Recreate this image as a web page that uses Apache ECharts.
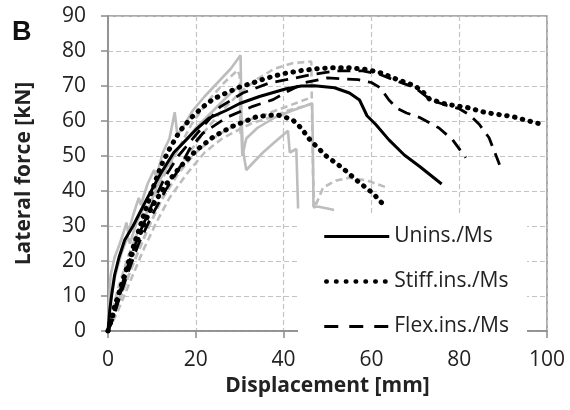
<!DOCTYPE html>
<html><head><meta charset="utf-8">
<script src="https://cdn.jsdelivr.net/npm/echarts@6/dist/echarts.min.js"></script>
<style>html,body{margin:0;padding:0;background:#fff}#c{width:570px;height:410px}</style>
</head><body><div id="c"></div>
<script>
// Tick values
const xTicks = [0, 20, 40, 60, 80, 100];
const yTicks = [0, 10, 20, 30, 40, 50, 60, 70, 80, 90];
const legendNames = ['Unins./Ms', 'Stiff.ins./Ms', 'Flex.ins./Ms'];

// Black curves [displacement mm, force kN]
const unins = [[0,0],[0.4,6],[0.8,10],[1.5,16],[2.5,21],[3.8,26],[5.7,30],[8.7,37.4],[12,45],[15,51],[17.8,54.6],[20,57.5],[23,60.8],[26.9,63],[30,65],[34.5,67],[40.6,69.2],[44,70],[47,70.1],[51.6,69.5],[55,68],[57.3,66],[59,61.5],[61,59],[64,54.6],[67.5,50.3],[71,47],[76,42]];
const stiffA = [[0,0],[1,4],[2,8.5],[4,17],[6,25],[8,32.5],[10,40],[12,47],[14,52],[16.3,57],[19,61],[21.6,64],[24,66.3],[26.9,68],[30,69.7],[33,70.9],[36,72.2],[39.8,73.5],[44,74.4],[48,75],[51,75.2],[55,75.2],[59,74.7],[62,73.8],[66,71.8],[70,70],[72,68],[73.2,66.3],[77,64.8],[82,63.8],[86,62.4],[92,61.3],[98.3,59.2]];
const stiffB = [[0,0],[0.4,2],[1.5,7],[2.7,11.6],[4.9,20],[8,30],[10,35.5],[13.3,42],[16.5,47],[20,51.5],[24,55.5],[28.4,58.5],[34,61.3],[38.5,61.8],[42,60.4],[44,58],[46,54.6],[49.7,50],[53.4,46.6],[56.5,43.2],[60.3,39.4],[63.4,35.2]];
const flexA = [[0,0],[1,4],[2.5,10.5],[4.5,18.5],[7,27.5],[10,36],[13,44],[16,50],[20,56],[25.5,64],[30.7,68],[36.8,70.9],[40.6,71.8],[46.6,73.3],[52,74.3],[58,74.3],[62,73.3],[66,71.3],[70,69.5],[72.5,67],[74,65.8],[77,64.5],[80,63.5],[82.3,61.8],[84.6,59],[86.8,55.2],[89.2,47.5]];
const flexB = [[0,0],[1,3],[2.5,9],[4.5,16.5],[7,25],[10,33],[13,40],[16,46],[18.6,52],[21.6,56.5],[27,61],[33,64.2],[37.6,66.1],[41,68.5],[45,71],[50,72.3],[57,71.8],[60,71],[62,69.5],[64,66],[66,63.5],[68,62.3],[71,61],[75.4,58],[78.5,54.6],[81.5,49.5]];

// Gray (other tests) curves
const graySolid1 = [[0,0],[0.3,10],[0.6,16],[1.5,21],[2.7,25],[3.5,28],[4.2,31],[4.6,28],[5.7,33],[7,38],[7.5,36],[9,42],[10.5,46],[11,44],[12.5,51],[14,55],[15.2,62.5],[15.8,56],[17,58],[19.3,63],[22,67],[25,71],[28,75],[30.2,78.8],[30.4,62],[30.7,52],[31.5,46],[33,48],[35.3,51],[38,54],[41,57.2],[41.4,51],[42.9,52],[43.3,35]];
const graySolid2 = [[0,0],[0.5,8],[1.5,15],[3,22],[4.5,27],[5,25],[6.5,31],[8.5,36],[9,34],[11,41],[13,46],[16,52],[20,58],[24,63],[28,68],[30,70],[30.3,60],[30.6,50],[31.5,55],[34,58],[38,61],[42,63],[46.5,65],[46.7,50],[46.8,35.5],[48,35.5],[50,35],[51.5,34.6]];
const grayDash1 = [[0,0],[1,3],[3,10],[5,17],[7,23],[9,29],[12,37],[15,44],[18,50],[22,57],[26,63],[30,68],[34,72],[38,75],[42,76.5],[46.3,77],[46.5,60],[46.7,45],[47,35],[49,41],[52,43],[55,43.8],[59,43],[63.5,41]];
const grayDash2 = [[0,0],[2,5],[4,11],[6,17],[8,23],[11,31],[14,38],[18,45],[22,51],[26,55],[29,57],[33,59.5],[37,61],[41,63],[46,64.7]];
const grayDash3 = [[0,0],[1.5,5],[3.5,12],[6,20],[9,29],[12,37],[16,45],[20,51],[25,56],[30,59.5],[35,61.5],[40,63.8],[46,66.6]];
const grayDash4 = [[0,0],[1,6],[2.5,13],[4.5,21],[7,29],[10,37],[13,45],[16,52],[19,59],[23,66],[26.5,71],[29.5,74.5],[30,73],[30.2,56]];

const FONT = '"Open Sans", "Noto Sans", sans-serif';
const GRAY = '#bdbdbd';
const dotStyle = {color:'#000', width:5, type:[0.5,7.5], cap:'round'};
const dashStyle = {color:'#000', width:2.8, type:[13,8]};
function line(name, data, ls, z) {
  return {name, type:'line', data, symbol:'none', showSymbol:false, lineStyle:ls, z:z||2, silent:true, animation:false};
}
const chart = echarts.init(document.getElementById('c'), null, {renderer:'canvas'});
chart.setOption({
  animation:false,
  backgroundColor:'#fff',
  graphic:[{type:'text', left:12, top:19, style:{text:'B', font:'bold 27px "Liberation Sans", Arial, sans-serif', fill:'#111'}}],
  grid:{left:108, right:23, top:16, bottom:79, show:true, borderColor:'#8f8f8f', borderWidth:1.5},
  legend:{
    data:[
      {name:legendNames[0], lineStyle:{color:'#000', width:3, type:'solid'}},
      {name:legendNames[1], lineStyle:{color:'#000', width:4.5, type:[0.5,9.3], cap:'round', dashOffset:-2}},
      {name:legendNames[2], lineStyle:{color:'#000', width:3, type:[14,11], dashOffset:0}}
    ],
    orient:'vertical', left:298, top:216,
    padding:[10,18,10,24], itemWidth:65, itemHeight:14, itemGap:24,
    backgroundColor:'#fff', textStyle:{fontFamily:FONT, fontSize:21, color:'#222'}, itemStyle:{opacity:0}
  },
  xAxis:{
    type:'value', min:0, max:100, interval:20,
    name:'Displacement [mm]', nameLocation:'middle', nameGap:45,
    nameTextStyle:{fontFamily:FONT, fontSize:21, fontWeight:'bold', color:'#222'},
    axisLine:{show:true, lineStyle:{color:'#8a8a8a', width:1.5}},
    axisTick:{show:true, length:7, lineStyle:{color:'#8a8a8a', width:1.5}},
    axisLabel:{fontFamily:FONT, fontSize:21, color:'#222', margin:19},
    splitLine:{show:true, lineStyle:{color:'#c4c4c4', width:1.2, type:[5,3]}}
  },
  yAxis:{
    type:'value', min:0, max:90, interval:10,
    name:'Lateral force [kN]', nameLocation:'middle', nameGap:73,
    nameTextStyle:{fontFamily:FONT, fontSize:21, fontWeight:'bold', color:'#222'},
    axisLine:{show:true, lineStyle:{color:'#8a8a8a', width:1.5}},
    axisTick:{show:true, length:7, lineStyle:{color:'#8a8a8a', width:1.5}},
    axisLabel:{fontFamily:FONT, fontSize:21, color:'#222', margin:22},
    splitLine:{show:true, lineStyle:{color:'#c4c4c4', width:1.2, type:[5,3]}}
  },
  series:[
    line('g1', graySolid1, {color:GRAY, width:2.6}, 1),
    line('g2', graySolid2, {color:GRAY, width:2.6}, 1),
    line('g3', grayDash1, {color:GRAY, width:2.6, type:[7,4]}, 1),
    line('g4', grayDash2, {color:GRAY, width:2.6, type:[7,4]}, 1),
    line('g5', grayDash3, {color:GRAY, width:2.6, type:[7,4]}, 1),
    line('g6', grayDash4, {color:GRAY, width:2.6, type:[7,4]}, 1),
    line('Unins./Ms', unins, {color:'#000', width:3}, 3),
    line('Stiff.ins./Ms', stiffA, dotStyle, 3),
    line('Stiff.ins./Ms', stiffB, dotStyle, 3),
    line('Flex.ins./Ms', flexA, dashStyle, 3),
    line('Flex.ins./Ms', flexB, dashStyle, 3)
  ]
});
</script></body></html>
